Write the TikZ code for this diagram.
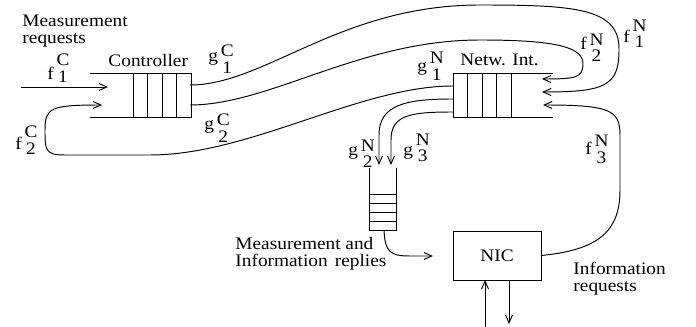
\documentclass[tikz,border=0pt]{standalone}
\usepackage{fontspec}
\setmainfont{Liberation Serif}[FakeStretch=1.1]
\usetikzlibrary{arrows.meta}
\tikzset{
  >={Straight Barb[length=4.5pt, width=4pt]},
  every node/.style={font=\fontsize{10}{9.6}\selectfont, inner sep=0pt},
  qcell/.style={
    rectangle, draw, minimum width=0.29cm, minimum height=0.88cm,
    inner sep=0pt, outer sep=0pt
  },
  vcell/.style={
    rectangle, draw, minimum width=0.54cm, minimum height=0.18cm,
    inner sep=0pt, outer sep=0pt
  },
  nicbox/.style={
    rectangle, draw, minimum width=1.76cm, minimum height=0.98cm,
    inner sep=0pt, outer sep=0pt
  },
  flowarrow/.style={->},
  idxlabel/.style={anchor=base west},
  notelabel/.style={anchor=north west, align=left}
}
% letter with stacked upper and lower index
\newcommand{\idx}[4][2.8pt]{#2\kern1.5pt\raisebox{-#1}{\shortstack{#3\\#4}}}

\begin{document}
\begin{tikzpicture}[x=0.02cm, y=-0.02cm, line width=0.55pt]
\useasboundingbox (0,0) rectangle (696,327);

% Controller queue
\foreach \i in {0,...,3}
  \node[qcell] (ctrl\i) at ({140.25+14.5*\i},95) {};
\draw (ctrl0.north west) -- ++(-43,0);
\draw (ctrl0.south west) -- ++(-43,0);
\node[anchor=base west] (ctrllbl) at (108,67) {Controller};

% Network interface queue
\foreach \i in {0,...,3}
  \node[qcell] (net\i) at ({460.25+14.5*\i},95) {};
\draw (net3.north east) -- ++(42,0);
\draw (net3.south east) -- ++(42,0);
\node[anchor=base west] (netlbl) at (460,66) {Netw. Int.};

% Reply queue
\foreach \i in {0,...,3}
  \node[vcell] (rep\i) at (382.5,{198.5+9*\i}) {};
\draw (rep0.north west) -- ++(0,-26);
\draw (rep0.north east) -- ++(0,-26);

% NIC
\node[nicbox] (nic) at (497,255.5) {NIC};

% Ports
\coordinate (req) at (21,87);
\coordinate (cin1) at (108,87);
\coordinate (cin2) at (102,105);
\coordinate (cout1) at (190,85);
\coordinate (cout2) at (190,105);
\coordinate (nin1) at (542,92);
\coordinate (nin2) at (542,79);
\coordinate (nin3) at (543,105);
\coordinate (nout1) at (453,86);
\coordinate (nout2) at (453,99);
\coordinate (nout3) at (453,112);
\coordinate (rin2) at (379,165);
\coordinate (rin3) at (391,165);
\coordinate (rout) at (384,230);
\coordinate (nicin) at (433,256);

% Edges
\draw[flowarrow] (req) -- (cin1);
\draw[flowarrow] (cout1) .. controls (265,85) and (340,5) .. (480,5)
  .. controls (575,5) and (620,8) .. (619,50)
  .. controls (619,86) and (605,92) .. (nin1);
\draw[flowarrow] (cout2) .. controls (270,105) and (360,40) .. (480,40)
  .. controls (560,40) and (583,48) .. (583,64)
  .. controls (583,78) and (575,79) .. (nin2);
\draw[flowarrow] (nout1) .. controls (360,86) and (250,155) .. (150,155)
  -- (65,155) .. controls (45,155) and (45,150) .. (45,130)
  .. controls (45,108) and (50,105) .. (cin2);
\draw[flowarrow] (nout2) .. controls (405,99) and (379,105) .. (379,135) -- (rin2);
\draw[flowarrow] (nout3) .. controls (410,112) and (391,115) .. (391,140) -- (rin3);
\draw[flowarrow] (rout) .. controls (385,252) and (390,256) .. (410,256) -- (nicin);
\draw[flowarrow] (nic.east) .. controls (600,250) and (620,230) .. (620,190)
  -- (620,135) .. controls (620,110) and (610,105) .. (nin3);
\draw[flowarrow] ([xshift=-0.24cm] nic.south) ++(0,47) coordinate (nicup) -- ([xshift=-0.24cm] nic.south);
\draw[flowarrow] ([xshift=0.24cm] nic.south) -- ++(0,44) coordinate (nicdown);

% Index labels
\node[idxlabel] (f1c) at (47,80) {\idx[1.7pt]{f}{C}{1}};
\node[idxlabel] (f2c) at (15,150) {\idx[2.8pt]{f}{C}{2}};
\node[idxlabel] (g1c) at (208,62) {\idx[6.3pt]{g}{C}{1}};
\node[idxlabel] (g2c) at (204,130) {\idx[7.4pt]{g}{C}{2}};
\node[idxlabel] (g1n) at (417,72) {\idx[4.6pt]{g}{N}{1}};
\node[idxlabel] (f2n) at (580,50) {\idx[6.8pt]{f}{N}{2}};
\node[idxlabel] (f1n) at (623,43) {\idx[2.8pt]{f}{N}{1}};
\node[idxlabel] (g2n) at (348,156) {\idx[6.8pt]{g}{N}{2}};
\node[idxlabel] (g3n) at (403,156) {\idx[3.4pt]{g}{N}{3}};
\node[idxlabel] (f3n) at (585,155) {\idx[4.6pt]{f}{N}{3}};

% Notes
\node[notelabel] (measreq) at (22,15) {Measurement\\requests};
\node[notelabel] (replies) at (235,237) {Measurement and\\Information\hspace{4pt}replies};
\node[notelabel] (inforeq) at (573,262) {Information\\requests};

\end{tikzpicture}
\end{document}
